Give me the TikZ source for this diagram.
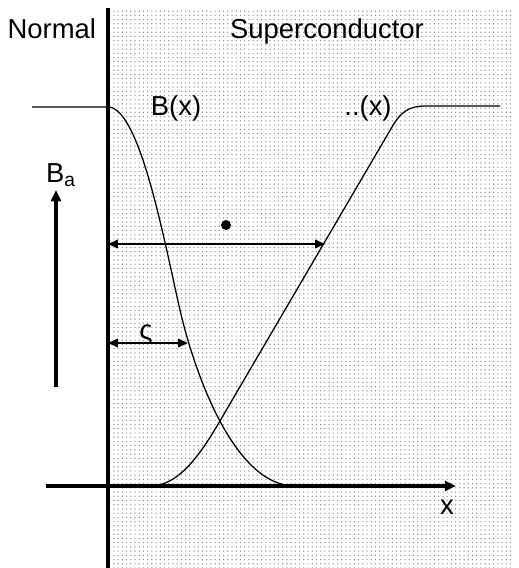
\documentclass[tikz,border=0pt]{standalone}
\usepackage{fontspec}
\setmainfont{Liberation Sans}
\usetikzlibrary{arrows.meta,patterns}
\definecolor{ink}{RGB}{0,0,0}
\definecolor{dotgray}{RGB}{140,140,140}

\begin{document}
\begin{tikzpicture}[x=0.025cm,y=-0.025cm,font=\fontsize{19.5}{22}\selectfont,
  curve/.style={ink,line width=0.9pt},
  dimarrow/.style={ink,line width=1.4pt,{Triangle[length=7pt,width=6pt]}-{Triangle[length=7pt,width=6pt]}},
  bigarrow/.style={ink,line width=2.2pt,-{Triangle[length=8pt,width=7pt]}}]
\useasboundingbox (0,0) rectangle (519,568);
% superconducting side
\fill[pattern=dots,pattern color=dotgray] (108,8) rectangle (513,568);
\draw[ink,line width=2.2pt] (108,8) -- (108,568);
\node[anchor=base east] (normal) at (101,38) {Normal};
\node[anchor=base] (sc) at (327,38) {Superconductor};
% field and penetration curves
\draw[curve] (32,107) -- (108,107)
  .. controls (140,107) and (165,245) .. (180,310)
  .. controls (195,375) and (235,486) .. (295,486);
\draw[curve] (150,486) .. controls (175,486) and (195,463) .. (217,426)
  -- (392,127) .. controls (400,113) and (408,106) .. (425,106) -- (500,106);
\node[anchor=base] (bx) at (176,115) {B(x)};
\node[anchor=base] (lx) at (368,115) {..(x)};
% axis
\coordinate (x0) at (46,486);
\coordinate (x1) at (456,486);
\draw[bigarrow] (x0) -- (x1);
\node (xlab) at (447,507) {x};
% applied field
\coordinate (ba0) at (56,387);
\coordinate (ba1) at (56,190);
\draw[bigarrow] (ba0) -- (ba1);
\node[anchor=base] (ba) at (61,182) {B\textsubscript{a}};
% lengths
\coordinate (la) at (108,244);
\coordinate (lb) at (325,244);
\draw[dimarrow] (la) -- (lb);
\fill[ink] (226,225) circle (5);
\coordinate (za) at (108,343);
\coordinate (zb) at (188,343);
\draw[dimarrow] (za) -- (zb);
\node[anchor=base] (zeta) at (146,339) {ς};
\end{tikzpicture}
\end{document}
